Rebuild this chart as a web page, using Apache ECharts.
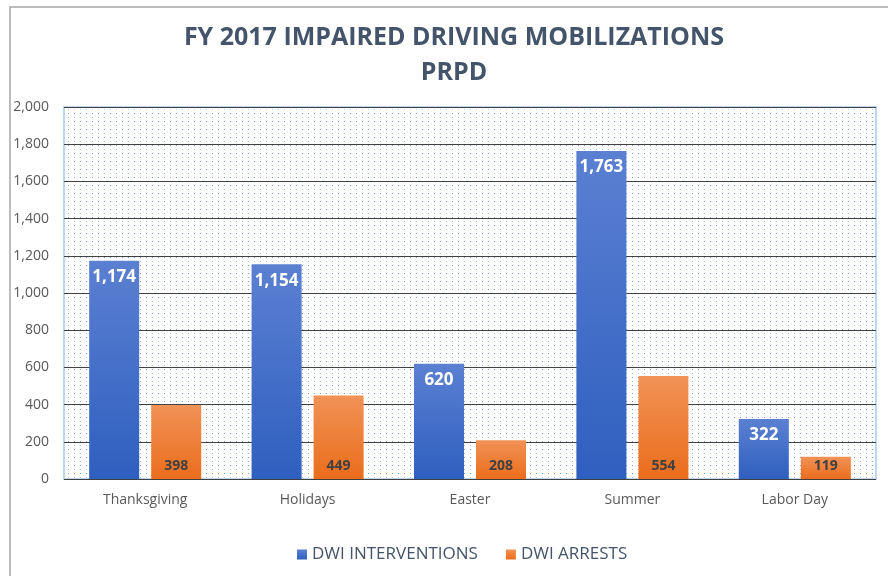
<!DOCTYPE html>
<html lang="en">
<head>
	<meta charset="UTF-8">
	<title>FY 2017 Impaired Driving Mobilizations</title>
	<style>
		html, body { margin:0; padding:0; background:#fff; }
	</style>
</head>
<body>
	<div id='main' style="width:888px;height:576px;"></div>
</body>
<script type="text/javascript" src="https://cdn.jsdelivr.net/npm/echarts@6/dist/echarts.min.js"></script>
<script type="text/javascript">
var categories = ['Thanksgiving', 'Holidays', 'Easter', 'Summer', 'Labor Day'];
var interventions = [1174, 1154, 620, 1763, 322];
var arrests = [398, 449, 208, 554, 119];
var seriesNames = ['DWI INTERVENTIONS', 'DWI ARRESTS'];

// dotted fill for the plot area
var dots = document.createElement('canvas');
dots.width = 6;
dots.height = 8;
var dctx = dots.getContext('2d');
dctx.fillStyle = '#ffffff';
dctx.fillRect(0, 0, 6, 8);
dctx.fillStyle = '#7c9ad8';
dctx.fillRect(2, 1, 1, 1);
dctx.fillStyle = '#b6c8ee';
dctx.fillRect(2, 5, 1, 1);

var fmt = function (p) {
    return p.value.toLocaleString('en-US');
};

var option = {
    animation: false,
    textStyle: { fontFamily: 'Open Sans' },
    graphic: [{
        type: 'rect',
        shape: { x: 10, y: 7, width: 890, height: 580 },
        style: { fill: 'none', stroke: '#a6a6a6', lineWidth: 1.5 }
    }],
    title: {
        text: 'FY 2017 IMPAIRED DRIVING MOBILIZATIONS\nPRPD',
        left: 449,
        textAlign: 'center',
        top: 15,
        textStyle: {
            fontSize: 25,
            fontWeight: 'bold',
            color: '#44546a',
            lineHeight: 35
        }
    },
    legend: {
        data: seriesNames,
        bottom: 8,
        left: 292,
        itemWidth: 10,
        itemHeight: 10,
        itemGap: 28,
        icon: 'rect',
        textStyle: { fontSize: 17, color: '#44546a' }
    },
    grid: {
        left: 64,
        right: 12,
        top: 107,
        bottom: 97,
        show: true,
        backgroundColor: { image: dots, repeat: 'repeat' },
        borderColor: '#bdd7ee',
        borderWidth: 2
    },
    xAxis: {
        type: 'category',
        data: categories,
        axisLine: { show: false },
        axisTick: { show: false },
        axisLabel: { fontSize: 14, color: '#595959', margin: 14 }
    },
    yAxis: {
        type: 'value',
        min: 0,
        max: 2000,
        interval: 200,
        axisLabel: {
            fontSize: 14,
            color: '#595959',
            margin: 15,
            formatter: function (v) { return v.toLocaleString('en-US'); }
        },
        splitLine: { lineStyle: { color: '#404040', width: 1 } }
    },
    series: [
        {
            name: seriesNames[0],
            type: 'bar',
            data: interventions,
            barGap: '24%',
            barCategoryGap: '31%',
            itemStyle: {
                color: new echarts.graphic.LinearGradient(0, 0, 0, 1, [
                    { offset: 0, color: '#5b80d2' },
                    { offset: 1, color: '#2f5fbf' }
                ])
            },
            label: {
                show: true,
                position: 'insideTop',
                distance: 8,
                color: '#ffffff',
                fontWeight: 'bold',
                fontSize: 17,
                formatter: fmt
            }
        },
        {
            name: seriesNames[1],
            type: 'bar',
            data: arrests,
            itemStyle: {
                color: new echarts.graphic.LinearGradient(0, 0, 0, 1, [
                    { offset: 0, color: '#f19256' },
                    { offset: 1, color: '#ea6d1c' }
                ])
            },
            label: {
                show: true,
                position: 'insideBottom',
                distance: 6,
                color: '#404040',
                fontWeight: 'bold',
                fontSize: 14,
                formatter: fmt
            }
        }
    ]
};

var myChart = echarts.init(document.getElementById('main'));
myChart.setOption(option);
</script>
</html>
